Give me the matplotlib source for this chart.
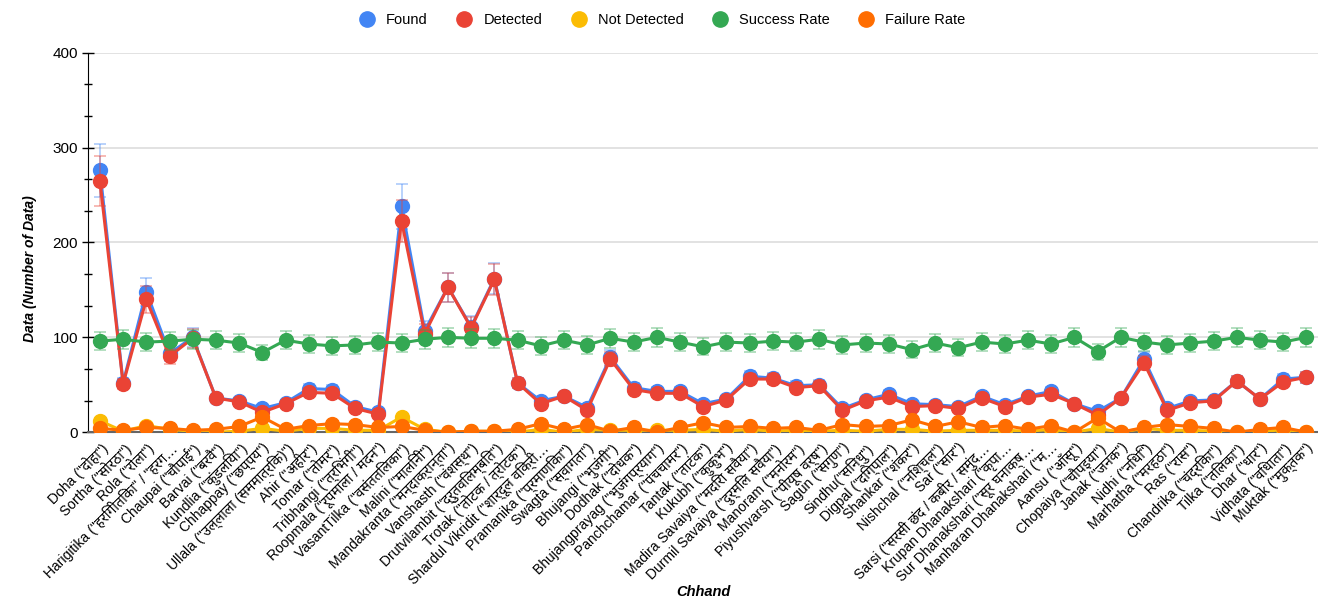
import matplotlib
matplotlib.use("Agg")
import matplotlib.pyplot as plt
from matplotlib import font_manager
from matplotlib.lines import Line2D
import numpy as np

# chhand names (x axis), truncated ones kept as shown
chhands = [
    'Doha ("दोहा")', 'Sortha ("सोरठा")', 'Rola ("रोला")',
    'Harigitika ("हरिगीतिका" / "हरग…', 'Chaupai ("चौपाई")', 'Barvai ("बरवै")',
    'Kundlia ("कुंडलिया")', 'Chhappay ("छप्पय")', 'Ullala ("उल्लाला (सममात्रिक)")',
    'Ahir ("अहीर")', 'Tomar ("तोमर")', 'Tribhangi ("त्रिभंगी")',
    'Roopmala ("रूपमाला / मदन")', 'VasantTilka ("वसंततिलका")', 'Malini ("मालिनी")',
    'Mandakranta ("मन्दाक्रान्ता")', 'Vanshasth ("वंशस्थ")', 'Drutvilambit ("द्रुतविलम्बित")',
    'Trotak ("तोटक / त्रोटक")', 'Shardul Vikridit ("शार्दूल विक्री…', 'Pramanika ("प्रमाणिका")',
    'Swagta ("स्वागता")', 'Bhujangi ("भुजंगी")', 'Dodhak ("दोधक")',
    'Bhujangprayag ("भुजंगप्रयाग")', 'Panchchamar ("पंचचामर")', 'Tantak ("ताटंक")',
    'Kukubh ("कुकुभ")', 'Madira Savaiya ("मदिरा सवैया")', 'Durmil Savaiya ("दुर्मिल सवैया")',
    'Manoram ("मनोरम")', 'Piyushvarsh ("पीयूष वर्ष")', 'Sagun ("सगुण")',
    'Sindhu("सिन्धु")', 'Digpal ("दिग्पाल")', 'Shankar ("शंकर")',
    'Nishchal ("निश्चल")', 'Sar ("सार")', 'Sarsi ("सरसी छंद / कबीर / समुंद…',
    'Krupan Dhanakshari ("कृपा…', 'Sur Dhanakshari ("सूर घनाक्ष…', 'Manharan Dhanakshari ("म…',
    'Aansu ("आँसू")', 'Chopaiya ("चौपइया")', 'Janak ("जनक")',
    'Nidhi ("निधि")', 'Marhatha ("मरहठा")', 'Ras ("रास")',
    'Chandrika ("चंद्रिका")', 'Tilka ("तिलका")', 'Dhar ("धार")',
    'Vidhata ("विधाता")', 'Muktak ("मुक्तक")',
]

found = [276, 52, 148, 83, 100, 36, 33, 25, 31, 46, 45, 27, 21, 238, 107, 153, 111, 162,
         52, 33, 38, 26, 79, 47, 43, 43, 30, 35, 59, 57, 49, 50, 25, 34, 40, 30, 29, 27,
         38, 29, 38, 43, 30, 22, 36, 77, 25, 33, 34, 54, 35, 56, 58]
detected = [265, 51, 140, 80, 99, 36, 32, 21, 30, 42, 41, 25, 19, 223, 104, 153, 110, 161,
            52, 30, 38, 23, 77, 45, 41, 41, 27, 34, 56, 56, 47, 49, 23, 33, 37, 27, 28, 25,
            36, 27, 37, 40, 30, 18, 36, 73, 23, 31, 33, 54, 35, 53, 58]
not_detected = [12, 1, 7, 3, 1, 0, 1, 4, 1, 4, 4, 2, 2, 16, 3, 0, 1, 1, 0, 3, 0, 3, 2, 2,
                2, 2, 3, 1, 3, 1, 2, 1, 2, 1, 3, 3, 1, 2, 2, 2, 1, 3, 0, 4, 0, 4, 2, 2, 1,
                0, 0, 3, 0]
success_rate = [96, 98, 95, 96, 98, 97, 94, 84, 97, 93, 91, 92, 95, 94, 98, 100, 99, 99,
                97, 91, 97, 92, 99, 95, 100, 95, 90, 95, 94, 96, 95, 98, 92, 94, 93, 87,
                94, 89, 95, 93, 97, 93, 100, 85, 100, 95, 92, 94, 96, 100, 97, 95, 100]
failure_rate = [4, 2, 5, 4, 2, 3, 6, 16, 3, 7, 9, 8, 5, 6, 2, 0, 1, 1, 3, 9, 3, 8, 1, 5,
                0, 5, 10, 5, 6, 4, 5, 2, 8, 6, 7, 13, 6, 11, 5, 7, 3, 7, 0, 15, 0, 5, 8,
                6, 4, 0, 3, 5, 0]
err_frac = 0.10  # interval bars are about 10% of each value

series = [
    ("Found", found, "#4285F4"),
    ("Detected", detected, "#EA4335"),
    ("Not Detected", not_detected, "#FBBC04"),
    ("Success Rate", success_rate, "#34A853"),
    ("Failure Rate", failure_rate, "#FF6D01"),
]

# pick a font that has Devanagari if one is installed
deva = None
names = set(f.name for f in font_manager.fontManager.ttflist)
for cand in ["Noto Sans Devanagari", "Lohit Devanagari", "Mukta", "Hind",
             "FreeSans", "Gargi", "Kalimati", "Mangal", "Nirmala UI"]:
    if cand in names:
        deva = cand
        break
fam = ["Liberation Sans"] + ([deva] if deva else []) + ["DejaVu Sans"]
plt.rcParams['font.family'] = fam

fig = plt.figure(figsize=(13.18, 6.07), dpi=100)
ax = fig.add_axes([0.067, 0.288, 0.933, 0.625])

x = np.arange(len(chhands))
for z, (name, vals, col) in enumerate(series):
    v = np.array(vals, dtype=float)
    ax.errorbar(x, v, yerr=v * err_frac, fmt='none', ecolor=col, alpha=0.4,
                elinewidth=1.3, capsize=4.5, capthick=1.3, zorder=2 + z)
    ax.plot(x, v, color=col, lw=2.2, marker='o', ms=10, zorder=3 + z)

ax.set_xlim(-0.5, len(chhands) - 0.5)
ax.set_ylim(0, 400)
ax.set_yticks([0, 100, 200, 300, 400])
ax.set_yticks(np.arange(0, 401, 100 / 3), minor=True)
ax.tick_params(axis='y', which='both', direction='inout', length=8, width=1, labelsize=11)
ax.tick_params(axis='y', which='minor', length=6)
ax.grid(axis='y', which='major', color='#dddddd', lw=1.2, zorder=0)
ax.set_axisbelow(True)

ax.set_xticks(x)
ax.set_xticklabels(chhands, rotation=45, ha='right', rotation_mode='anchor', fontsize=10)
ax.tick_params(axis='x', length=0, pad=6)

for s in ['top', 'right']:
    ax.spines[s].set_visible(False)
ax.spines['left'].set_color('black')
ax.spines['bottom'].set_color('#666666')
ax.spines['bottom'].set_linewidth(1.5)

ax.set_ylabel("Data (Number of Data)", fontsize=10, fontweight='bold', fontstyle='italic')
ax.yaxis.set_label_coords(-0.042, 0.43)
fig.text(0.534, 0.018, "Chhand", fontsize=10.5, fontweight='bold', fontstyle='italic', ha='center')

handles = [Line2D([], [], ls='none', marker='o', ms=11, color=c, label=n) for n, _, c in series]
fig.legend(handles=handles, loc='upper center', bbox_to_anchor=(0.5, 1.0), ncol=5,
           frameon=False, fontsize=10.5, handletextpad=0.3, columnspacing=1.5)

fig.savefig("out.png", dpi=100)
